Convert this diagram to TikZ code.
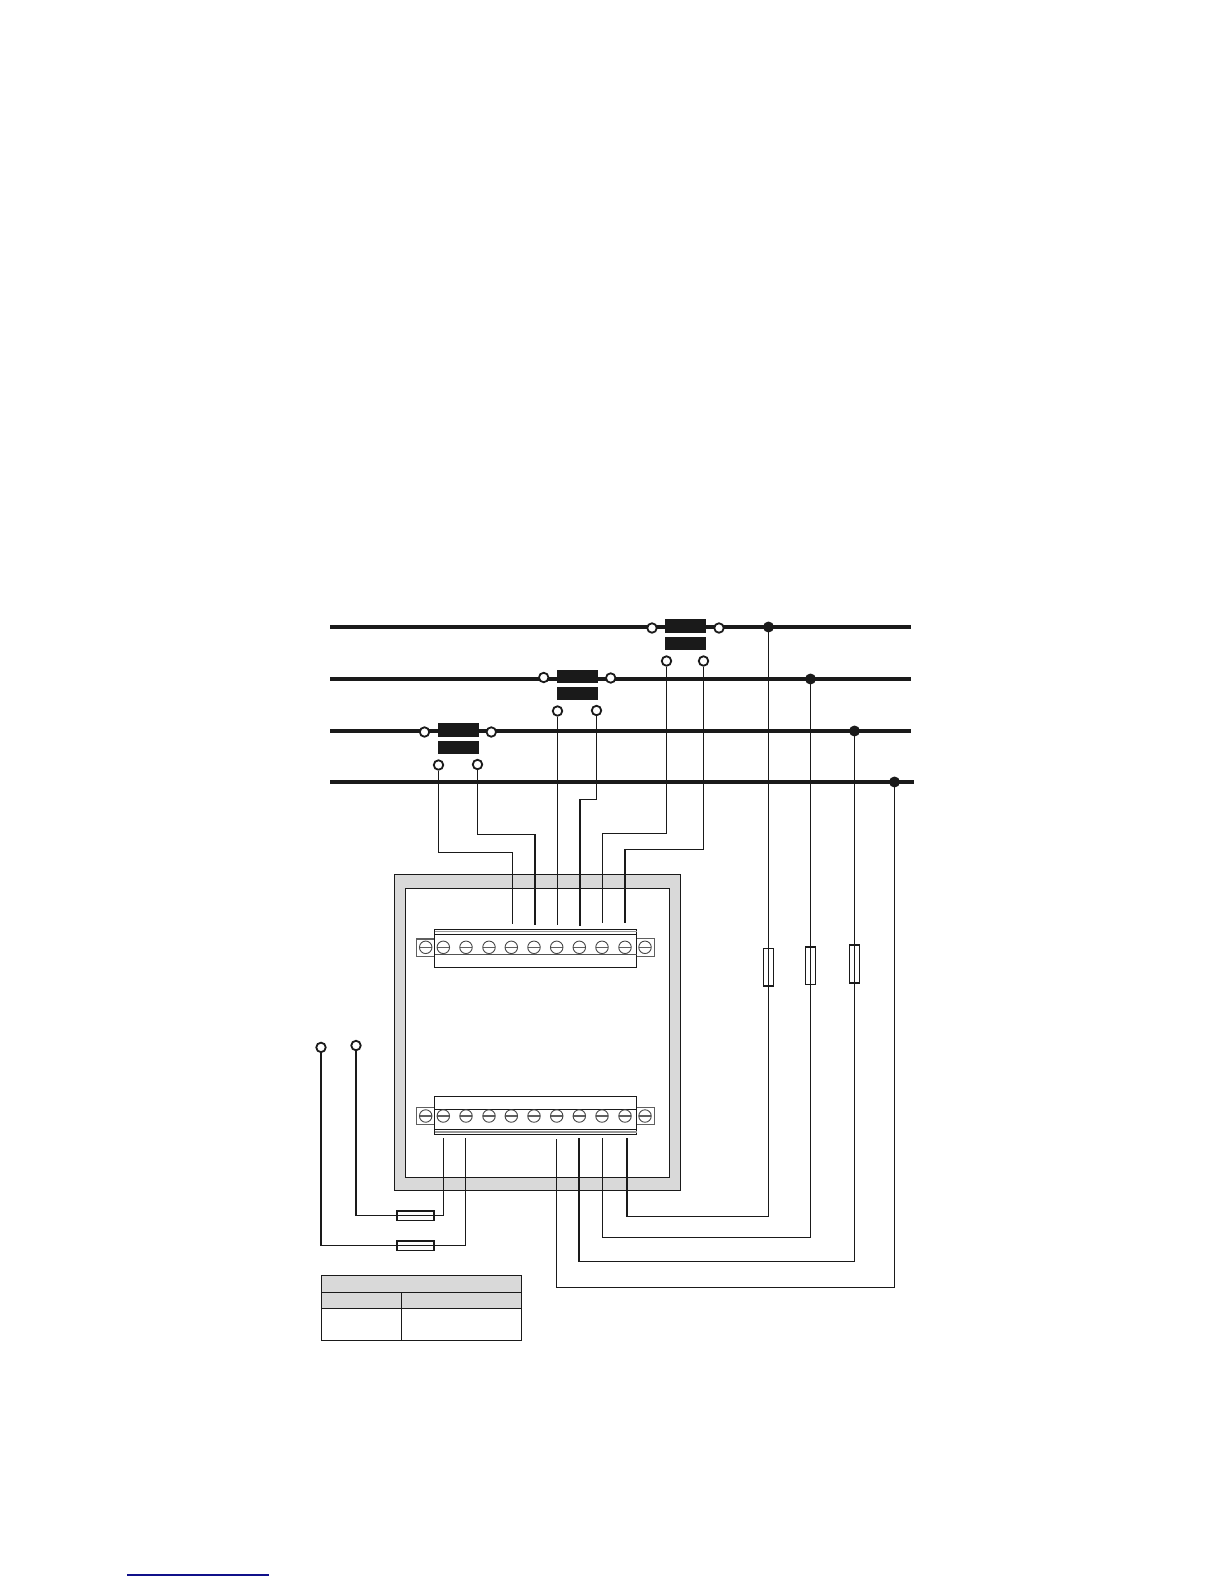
\documentclass[tikz,border=0pt]{standalone}
\definecolor{ink}{HTML}{1A1A1A}
\definecolor{panel}{HTML}{D9D9D9}
\definecolor{rule}{HTML}{10108A}
\tikzset{
  busline/.style={draw=ink,line width=4pt},
  wire/.style={draw=ink,line width=1.8pt,line join=miter},
  ctbar/.style={fill=ink,draw=none,inner sep=0pt,minimum width=41pt,minimum height=13.5pt},
  term/.style={circle,draw=ink,fill=white,line width=1.8pt,inner sep=0pt,minimum size=9.5pt},
  tap/.style={circle,fill=ink,inner sep=0pt,minimum size=11pt},
  vfuse/.style={rectangle,draw=ink,line width=1.7pt,inner sep=0pt,minimum width=10pt,minimum height=37.5pt},
  hfuse/.style={rectangle,draw=ink,line width=1.7pt,inner sep=0pt,minimum width=36.5pt,minimum height=9.7pt},
  thin/.style={draw=ink,line width=1.2pt},
  screw/.style={circle,draw=ink!80,line width=0.9pt,inner sep=0pt,minimum size=12.5pt,
    path picture={\draw[ink!70,line width=1.6pt] (path picture bounding box.west) -- (path picture bounding box.east);}},
}
\begin{document}
\begin{tikzpicture}[x=1pt,y=-1pt]
\useasboundingbox (0,0) rectangle (1224,1584);
% rule at foot of page
\coordinate (ra) at (127.3,1575);
\coordinate (rb) at (269,1575);
\draw[rule,line width=1.2pt] (ra) -- (rb);
% enclosure
\filldraw[fill=panel,draw=ink,line width=1.2pt] (394.5,874.5) rectangle (680.5,1190.5);
\filldraw[fill=white,draw=ink,line width=1.2pt] (405.5,888.5) rectangle (669.5,1177.5);
% buses
\coordinate (b1l) at (330,627);   \coordinate (b1r) at (911,627);
\coordinate (b2l) at (330,679);   \coordinate (b2r) at (911,679);
\coordinate (b3l) at (330,731);   \coordinate (b3r) at (911,731);
\coordinate (b4l) at (330,782);   \coordinate (b4r) at (914,782);
\draw[busline] (b1l) -- (b1r);
\draw[busline] (b2l) -- (b2r);
\draw[busline] (b3l) -- (b3r);
\draw[busline] (b4l) -- (b4r);
% current transformers
\node[ctbar] (ct1u) at (685.5,625.8) {};
\node[ctbar] (ct1d) at (685.5,643.5) {};
\node[ctbar] (ct2u) at (577.5,676.5) {};
\node[ctbar] (ct2d) at (577.5,693.5) {};
\node[ctbar] (ct3u) at (458.5,730) {};
\node[ctbar] (ct3d) at (458.5,747.5) {};
\node[term] at (652,628) (c1l) {};
\node[term] at (719,628) (c1r) {};
\node[term] at (543.7,677.5) (c2l) {};
\node[term] at (610.7,678) (c2r) {};
\node[term] at (424.5,732) (c3l) {};
\node[term] at (491.3,732) (c3r) {};
\node[term] at (666.5,661) (s1a) {};
\node[term] at (703.5,661) (s1b) {};
\node[term] at (557.5,711) (s2a) {};
\node[term] at (596.5,710.5) (s2b) {};
\node[term] at (438.5,765) (s3a) {};
\node[term] at (477.5,764.5) (s3b) {};
% taps
\node[tap] at (768.5,627) (t1) {};
\node[tap] at (810.5,679) (t2) {};
\node[tap] at (854.5,731) (t3) {};
\node[tap] at (894.5,782) (t4) {};
% fuses on the potential wires
\node[vfuse] at (768.5,967.2) (f1) {};
\node[vfuse] at (810.5,965.6) (f2) {};
\node[vfuse] at (854.5,964) (f3) {};
% top terminal block
\foreach \ya/\yb/\xa/\xb in {939/956.7/416.3/434.3, 938.5/956.5/636.3/654.3}
  \draw[thin,draw=ink!70] (\xa,\ya) rectangle (\xb,\yb);
\draw[thin] (434.5,929.5) rectangle (636.5,967.5);
\draw[thin,draw=ink!45] (434.5,931.5) -- (636.5,931.5);
\draw[thin] (434.5,934.5) -- (636.5,934.5);
\draw[thin,draw=ink!75] (434.5,954.5) -- (636.5,954.5);
\foreach \i/\x in {0/425.7,1/443.3,2/466,3/489,4/511.3,5/534,6/556.7,7/579.3,8/602,9/625,10/645}
  \node[screw] (su\i) at (\x,947.3) {};
% bottom terminal block
\foreach \ya/\yb/\xa/\xb in {1107.3/1124.7/416.3/434.3, 1107.3/1124.7/636.3/654.3}
  \draw[thin,draw=ink!70] (\xa,\ya) rectangle (\xb,\yb);
\draw[thin] (434.5,1096.5) rectangle (636.5,1134.5);
\draw[thin] (434.5,1109.5) -- (636.5,1109.5);
\draw[thin] (434.5,1129.5) -- (636.5,1129.5);
\draw[thin,draw=ink!45] (434.5,1132) -- (636.5,1132);
\foreach \i/\x in {0/425.7,1/443.3,2/466,3/489,4/511.3,5/534,6/556.7,7/579.3,8/602,9/625,10/645}
  \node[screw] (sl\i) at (\x,1116) {};
% wire ends at the blocks
\coordinate (u1) at (512.5,924);
\coordinate (u2) at (535,925);
\coordinate (u3) at (557.5,925);
\coordinate (u4) at (580,926);
\coordinate (u5) at (602.5,923);
\coordinate (u6) at (625,923);
\coordinate (l1) at (443.5,1138);
\coordinate (l2) at (465.5,1138);
\coordinate (l3) at (556.5,1139);
\coordinate (l4) at (579,1138);
\coordinate (l5) at (602.5,1138);
\coordinate (l6) at (627,1138);
% current wiring
\draw[wire] (s3a.south) |- (u1 |- 0,852.5) -- (u1);
\draw[wire] (s3b.south) |- (u2 |- 0,834.5) -- (u2);
\draw[wire] (s2a.south) -- (u3);
\draw[wire] (s2b.south) |- (u4 |- 0,799.5) -- (u4);
\draw[wire] (s1a.south) |- (u5 |- 0,833.5) -- (u5);
\draw[wire] (s1b.south) |- (u6 |- 0,849.5) -- (u6);
% potential wiring
\draw[wire] (t1.center) -- (f1.north) -- (f1.south) |- (l6 |- 0,1216.5) -- (l6);
\draw[wire] (t2.center) -- (f2.north) -- (f2.south) |- (l5 |- 0,1237.5) -- (l5);
\draw[wire] (t3.center) -- (f3.north) -- (f3.south) |- (l4 |- 0,1261.5) -- (l4);
\draw[wire] (t4.center) |- (l3 |- 0,1287.5) -- (l3);
% auxiliary supply
\node[term] at (321,1047.4) (a1) {};
\node[term] at (356,1045.5) (a2) {};
\node[hfuse] at (415.5,1215.5) (f4) {};
\node[hfuse] at (415.5,1245.5) (f5) {};
\draw[wire] (a2.south) |- (f4.west) -- (f4.east) -| (l1);
\draw[wire] (a1.south) |- (f5.west) -- (f5.east) -| (l2);
% table
\fill[panel] (321.5,1275.5) rectangle (521.5,1308.5);
\draw[thin] (321.5,1275.5) rectangle (521.5,1340.5);
\draw[thin] (321.5,1292.5) -- (521.5,1292.5);
\draw[thin] (321.5,1308.5) -- (521.5,1308.5);
\draw[thin] (401.5,1292.5) -- (401.5,1340.5);
\end{tikzpicture}
\end{document}
